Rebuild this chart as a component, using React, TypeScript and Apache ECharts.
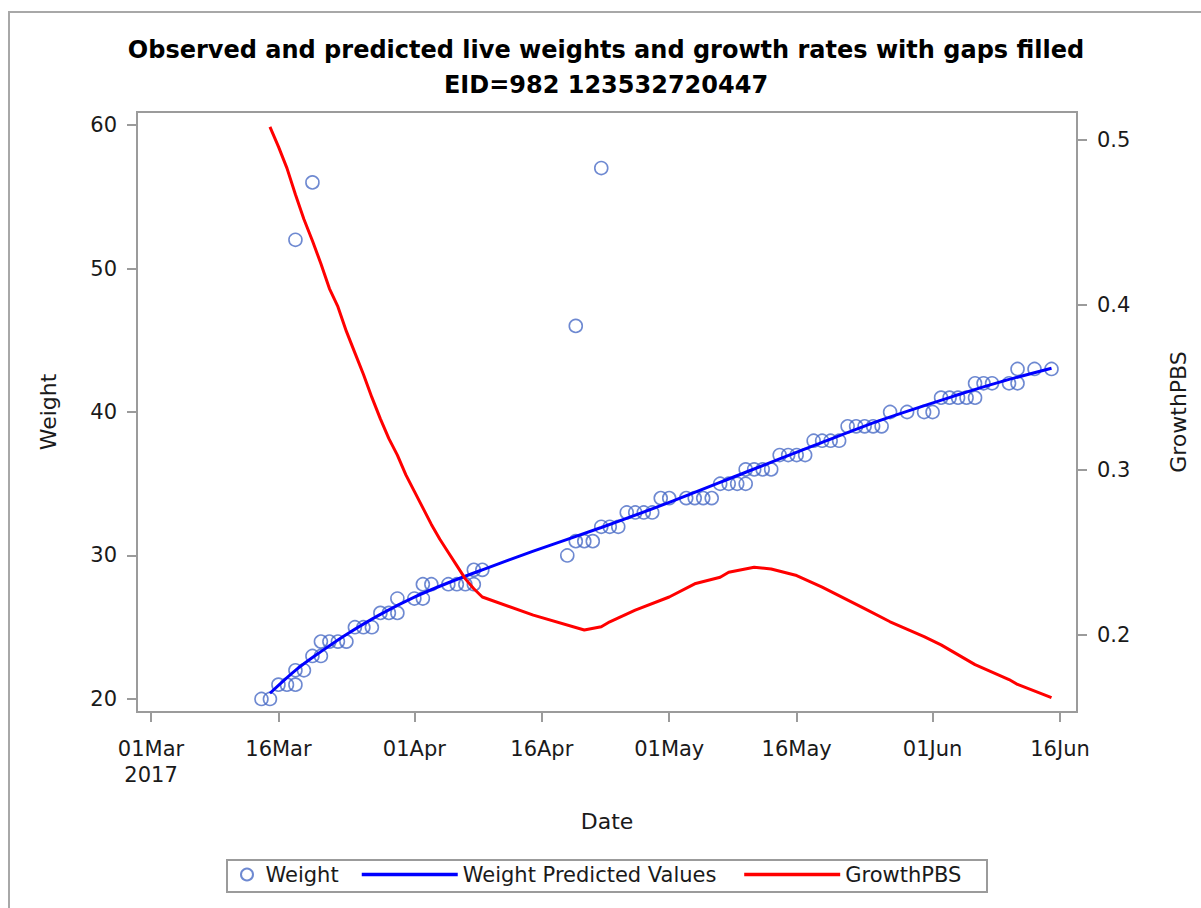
import React, { useEffect, useRef } from 'react';
import * as echarts from 'echarts';

// ---------- data ----------
const weightDates = [
  '2017-03-14', '2017-03-15', '2017-03-16', '2017-03-17', '2017-03-18', '2017-03-18', '2017-03-18',
  '2017-03-19', '2017-03-20', '2017-03-20', '2017-03-21', '2017-03-21', '2017-03-22', '2017-03-23',
  '2017-03-24', '2017-03-25', '2017-03-26', '2017-03-27', '2017-03-28', '2017-03-29', '2017-03-30',
  '2017-03-30', '2017-04-01', '2017-04-02', '2017-04-02', '2017-04-03', '2017-04-05', '2017-04-06',
  '2017-04-07', '2017-04-08', '2017-04-08', '2017-04-09',
  '2017-04-19', '2017-04-20', '2017-04-20', '2017-04-21', '2017-04-22', '2017-04-23', '2017-04-23',
  '2017-04-24', '2017-04-25', '2017-04-26', '2017-04-27', '2017-04-28', '2017-04-29', '2017-04-30',
  '2017-05-01', '2017-05-03', '2017-05-04', '2017-05-05', '2017-05-06', '2017-05-07', '2017-05-08',
  '2017-05-09', '2017-05-10', '2017-05-10', '2017-05-11', '2017-05-12', '2017-05-13', '2017-05-14',
  '2017-05-15', '2017-05-16', '2017-05-17', '2017-05-18', '2017-05-19', '2017-05-20', '2017-05-21',
  '2017-05-22', '2017-05-23', '2017-05-24', '2017-05-25', '2017-05-26', '2017-05-27', '2017-05-29',
  '2017-05-31', '2017-06-01', '2017-06-02', '2017-06-03', '2017-06-04', '2017-06-05', '2017-06-06',
  '2017-06-06', '2017-06-07', '2017-06-08', '2017-06-10', '2017-06-11', '2017-06-11', '2017-06-13',
  '2017-06-15',
];
const weightValues = [
  20, 20, 21, 21, 21, 22, 52,
  22, 23, 56, 23, 24, 24, 24,
  24, 25, 25, 25, 26, 26, 26,
  27, 27, 27, 28, 28, 28, 28,
  28, 28, 29, 29,
  30, 46, 31, 31, 31, 57, 32,
  32, 32, 33, 33, 33, 33, 34,
  34, 34, 34, 34, 34, 35, 35,
  35, 35, 36, 36, 36, 36, 37,
  37, 37, 37, 38, 38, 38, 38,
  39, 39, 39, 39, 39, 40, 40,
  40, 40, 41, 41, 41, 41, 41,
  42, 42, 42, 42, 42, 43, 43,
  43,
];

const predictedDates = [
  '2017-03-15', '2017-03-18', '2017-03-21', '2017-03-24', '2017-03-28', '2017-04-01', '2017-04-05',
  '2017-04-09', '2017-04-15', '2017-04-23', '2017-05-01', '2017-05-10', '2017-05-18', '2017-05-26',
  '2017-06-04', '2017-06-09', '2017-06-15',
];
const predictedValues = [
  20.4, 22.0, 23.3, 24.5, 25.9, 27.1, 28.1,
  29.0, 30.3, 31.95, 33.7, 35.8, 37.65, 39.45,
  41.2, 42.1, 43.05,
];

const growthDates = [
  '2017-03-15', '2017-03-16', '2017-03-17', '2017-03-18', '2017-03-19', '2017-03-20', '2017-03-21',
  '2017-03-22', '2017-03-23', '2017-03-24', '2017-03-25', '2017-03-26', '2017-03-27', '2017-03-28',
  '2017-03-29', '2017-03-30', '2017-03-31', '2017-04-01', '2017-04-02', '2017-04-03', '2017-04-04',
  '2017-04-05', '2017-04-06', '2017-04-07', '2017-04-08', '2017-04-09', '2017-04-15', '2017-04-21',
  '2017-04-23', '2017-04-24', '2017-04-27', '2017-05-01', '2017-05-04', '2017-05-07', '2017-05-08',
  '2017-05-11', '2017-05-13', '2017-05-16', '2017-05-19', '2017-05-24', '2017-05-27', '2017-05-31',
  '2017-06-02', '2017-06-06', '2017-06-10', '2017-06-11', '2017-06-15',
];
const growthValues = [
  0.508, 0.496, 0.483, 0.467, 0.452, 0.439, 0.425,
  0.410, 0.399, 0.384, 0.371, 0.358, 0.344, 0.331,
  0.319, 0.309, 0.297, 0.287, 0.277, 0.267, 0.258,
  0.250, 0.242, 0.234, 0.228, 0.223, 0.212, 0.203,
  0.205, 0.208, 0.215, 0.223, 0.231, 0.235, 0.238,
  0.241, 0.240, 0.236, 0.229, 0.216, 0.208, 0.199,
  0.194, 0.182, 0.173, 0.170, 0.162,
];

const dateTicks = [
  '2017-03-01', '2017-03-16', '2017-04-01', '2017-04-16',
  '2017-05-01', '2017-05-16', '2017-06-01', '2017-06-16',
];
const weightTicks = [20, 30, 40, 50, 60];
const growthTicks = [0.2, 0.3, 0.4, 0.5];

// ---------- helpers ----------
const MONTHS = ['Jan', 'Feb', 'Mar', 'Apr', 'May', 'Jun', 'Jul', 'Aug', 'Sep', 'Oct', 'Nov', 'Dec'];
const ts = (s: string) => {
  const [y, m, d] = s.split('-').map(Number);
  return Date.UTC(y, m - 1, d);
};
const DAY = 86400000;
const FONT = 'DejaVu Sans';
const GRAY = '#9b9b9b';

const tickTs = dateTicks.map(ts);
const fmtDate = (v: number) => {
  const dt = new Date(v);
  const dd = String(dt.getUTCDate()).padStart(2, '0');
  const label = dd + MONTHS[dt.getUTCMonth()];
  return Math.abs(v - tickTs[0]) < DAY / 2 ? label + '\n' + dt.getUTCFullYear() : label;
};

export default function App() {
  const ref = useRef<HTMLDivElement>(null);

  useEffect(() => {
    if (!ref.current) return;
    const chart = echarts.init(ref.current, null, { renderer: 'svg' });

    const tickText = { fontFamily: FONT, fontSize: 21, color: '#1a1a1a' };
    const legendText = { fontFamily: FONT, fontSize: 21, color: '#1a1a1a' };

    const option: any = {
      animation: false,
      backgroundColor: '#ffffff',
      grid: {
        left: 137,
        top: 112,
        width: 940,
        height: 600,
        show: true,
        borderColor: GRAY,
        borderWidth: 2,
        backgroundColor: 'transparent',
        containLabel: false,
      },
      graphic: [
        {
          type: 'polyline',
          silent: true,
          shape: { points: [[9, 910], [9, 12], [1205, 12]] },
          style: { stroke: '#a8a8a8', lineWidth: 2, fill: 'none' },
        },
        {
          type: 'text',
          silent: true,
          x: 606,
          y: 50,
          style: {
            text: 'Observed and predicted live weights and growth rates with gaps filled',
            align: 'center',
            verticalAlign: 'middle',
            fontFamily: FONT,
            fontWeight: 'bold',
            fontSize: 24,
            fill: '#000',
          },
        },
        {
          type: 'text',
          silent: true,
          x: 606,
          y: 85,
          style: {
            text: 'EID=982 123532720447',
            align: 'center',
            verticalAlign: 'middle',
            fontFamily: FONT,
            fontWeight: 'bold',
            fontSize: 24,
            fill: '#000',
          },
        },
        {
          type: 'rect',
          silent: true,
          shape: { x: 227, y: 860, width: 760, height: 32 },
          style: { fill: 'none', stroke: GRAY, lineWidth: 2 },
        },
      ],
      legend: [
        {
          data: ['Weight'],
          left: 240,
          top: 864,
          padding: 0,
          itemWidth: 27,
          itemHeight: 12,
          textStyle: legendText,
        },
        {
          data: ['Weight Predicted Values', 'GrowthPBS'],
          left: 360,
          top: 864,
          padding: 0,
          itemWidth: 96,
          itemHeight: 12,
          itemGap: 26,
          itemStyle: { color: 'rgba(0,0,0,0)', borderWidth: 0, opacity: 0 },
          lineStyle: { width: 3.5 },
          textStyle: legendText,
        },
      ],
      xAxis: {
        type: 'value',
        min: ts('2017-03-01') - 1.65 * DAY,
        max: ts('2017-06-16') + 2.0 * DAY,
        name: 'Date',
        nameLocation: 'middle',
        nameGap: 98,
        nameTextStyle: { fontFamily: FONT, fontSize: 22, color: '#1a1a1a' },
        axisLine: { show: false },
        splitLine: { show: false },
        axisTick: {
          show: true,
          length: 10,
          lineStyle: { color: GRAY, width: 2 },
          customValues: tickTs,
        },
        axisLabel: {
          ...tickText,
          margin: 24,
          lineHeight: 26,
          customValues: tickTs,
          hideOverlap: false,
          formatter: (v: number) => fmtDate(v),
        },
      },
      yAxis: [
        {
          type: 'value',
          min: 19.094,
          max: 60.906,
          name: 'Weight',
          nameLocation: 'middle',
          nameGap: 78,
          nameTextStyle: { fontFamily: FONT, fontSize: 22, color: '#1a1a1a' },
          axisLine: { show: false },
          splitLine: { show: false },
          axisTick: {
            show: true,
            length: 10,
            lineStyle: { color: GRAY, width: 2 },
            customValues: weightTicks,
          },
          axisLabel: { ...tickText, margin: 20, customValues: weightTicks },
        },
        {
          type: 'value',
          position: 'right',
          min: 0.1533,
          max: 0.517,
          name: 'GrowthPBS',
          nameLocation: 'middle',
          nameGap: 90,
          nameTextStyle: { fontFamily: FONT, fontSize: 22, color: '#1a1a1a' },
          axisLine: { show: false },
          splitLine: { show: false },
          axisTick: {
            show: true,
            length: 10,
            lineStyle: { color: GRAY, width: 2 },
            customValues: growthTicks,
          },
          axisLabel: {
            ...tickText,
            margin: 20,
            customValues: growthTicks,
            formatter: (v: number) => v.toFixed(1),
          },
        },
      ],
      series: [
        {
          name: 'Weight',
          type: 'scatter',
          yAxisIndex: 0,
          symbol: 'circle',
          symbolSize: 13,
          data: weightDates.map((d, i) => [ts(d), weightValues[i]]),
          itemStyle: { color: 'rgba(255,255,255,0)', borderColor: '#4a6bc6', borderWidth: 1.6 },
          z: 2,
        },
        {
          name: 'Weight Predicted Values',
          type: 'line',
          yAxisIndex: 0,
          symbol: 'none',
          showSymbol: false,
          smooth: 0.3,
          data: predictedDates.map((d, i) => [ts(d), predictedValues[i]]),
          lineStyle: { color: '#0000ff', width: 3 },
          itemStyle: { color: '#0000ff' },
          z: 3,
        },
        {
          name: 'GrowthPBS',
          type: 'line',
          yAxisIndex: 1,
          symbol: 'none',
          showSymbol: false,
          data: growthDates.map((d, i) => [ts(d), growthValues[i]]),
          lineStyle: { color: '#ff0000', width: 3 },
          itemStyle: { color: '#ff0000' },
          z: 4,
        },
      ],
    };

    chart.setOption(option);
    return () => chart.dispose();
  }, []);

  return (
    <div
      ref={ref}
      style={{ position: 'fixed', left: 0, top: 0, width: 1201, height: 908, background: '#fff' }}
    />
  );
}
